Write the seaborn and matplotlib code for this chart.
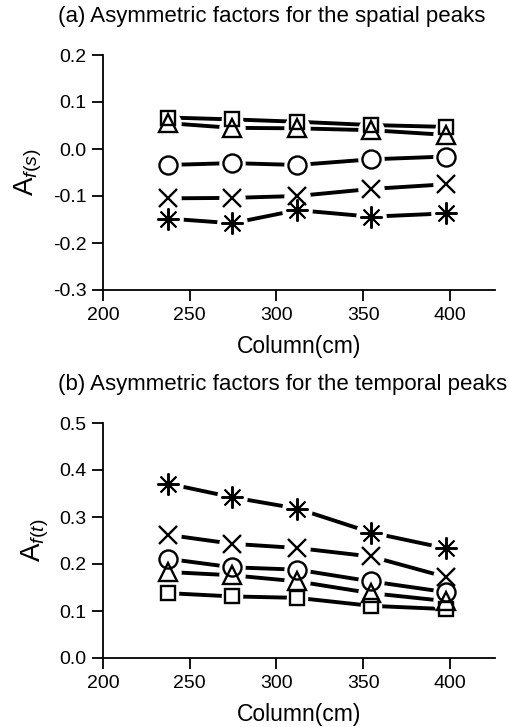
import matplotlib
matplotlib.use("Agg")
import matplotlib.pyplot as plt
import seaborn as sns

sns.set_style("ticks")
plt.rcParams['font.family'] = ['Liberation Sans', 'DejaVu Sans']
plt.rcParams['mathtext.fontset'] = 'custom'
plt.rcParams['mathtext.rm'] = 'Liberation Sans'
plt.rcParams['mathtext.it'] = 'Liberation Sans:italic'
plt.rcParams['axes.unicode_minus'] = False
for k in ['text.color', 'axes.labelcolor', 'xtick.color', 'ytick.color', 'axes.edgecolor']:
    plt.rcParams[k] = 'black'

column = [237.5, 274.5, 312, 354.5, 398]

# (a) spatial peaks
spatial_square = [0.067, 0.063, 0.058, 0.051, 0.047]
spatial_triangle = [0.055, 0.045, 0.044, 0.040, 0.030]
spatial_circle = [-0.034, -0.030, -0.034, -0.022, -0.016]
spatial_x = [-0.105, -0.104, -0.100, -0.085, -0.075]
spatial_star = [-0.148, -0.158, -0.130, -0.144, -0.137]

# (b) temporal peaks
temporal_star = [0.371, 0.342, 0.318, 0.267, 0.233]
temporal_x = [0.262, 0.243, 0.234, 0.216, 0.172]
temporal_circle = [0.211, 0.193, 0.188, 0.163, 0.140]
temporal_triangle = [0.183, 0.176, 0.163, 0.138, 0.121]
temporal_square = [0.138, 0.131, 0.128, 0.111, 0.104]

markers = {"square": ("s", 9.5), "triangle": ("^", 13), "circle": ("o", 13),
           "x": ("x", 13), "star": ((8, 2, 0), 16)}

fig = plt.figure(figsize=(5.09, 7.27), dpi=100)
W, H = 509, 727
ax_a = fig.add_axes([103 / W, (H - 290) / H, 392 / W, 235 / H])
ax_b = fig.add_axes([103 / W, (H - 658) / H, 392 / W, 235 / H])

panels = [
    (ax_a, {"square": spatial_square, "triangle": spatial_triangle, "circle": spatial_circle,
            "x": spatial_x, "star": spatial_star},
     "(a) Asymmetric factors for the spatial peaks", r"A$_{f(s)}$", (-0.3, 0.2), [-0.3, -0.2, -0.1, 0.0, 0.1, 0.2]),
    (ax_b, {"star": temporal_star, "x": temporal_x, "circle": temporal_circle,
            "triangle": temporal_triangle, "square": temporal_square},
     "(b) Asymmetric factors for the temporal peaks", r"A$_{f(t)}$", (0.0, 0.5), [0.0, 0.1, 0.2, 0.3, 0.4, 0.5]),
]

for ax, series, title, ylabel, ylim, yticks in panels:
    for name, vals in series.items():
        m, ms = markers[name]
        sns.lineplot(x=column, y=vals, ax=ax, color="black", lw=2.8, zorder=2)
        # white halo so lines stop short of markers
        ax.plot(column, vals, ls="none", marker="o", ms=ms + 5, mfc="white", mec="white", zorder=3)
    for name, vals in series.items():
        m, ms = markers[name]
        ax.plot(column, vals, ls="none", marker=m, ms=ms, mfc="none", mec="black",
                mew=1.4 if name == "star" else 1.7, zorder=4)
    ax.set_xlim(200, 426)
    ax.set_ylim(*ylim)
    ax.set_xticks([200, 250, 300, 350, 400])
    ax.set_yticks(yticks)
    ax.set_yticklabels([f"{t:.1f}" for t in yticks])
    ax.set_xlabel("Column(cm)", fontsize=16.5, labelpad=8)
    ax.set_ylabel(ylabel, fontsize=20, labelpad=6)
    ax.set_title(title, fontsize=16, loc="left", x=-0.115, pad=24)
    ax.tick_params(labelsize=14, length=8, width=1.3, direction="out", pad=4)
    for s in ["left", "bottom"]:
        ax.spines[s].set_linewidth(1.3)
    sns.despine(ax=ax)

fig.savefig("out.png", dpi=100, facecolor="white")
